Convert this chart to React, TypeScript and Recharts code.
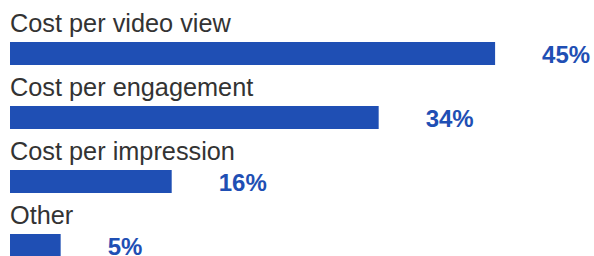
import { Bar, BarChart, LabelList, XAxis, YAxis } from 'recharts';

const categories = ['Cost per video view', 'Cost per engagement', 'Cost per impression', 'Other'];
const values = [45, 34.2, 15, 4.7];
const shareLabels = ['45%', '34%', '16%', '5%'];

const data = categories.map((name, i) => ({ name, value: values[i], share: shareLabels[i] }));

const BLUE = '#1f4fb4';

const NameLabel = (props: any) => {
  const { x, y, index } = props;
  return (
    <text x={x} y={y - 10} fill="#333" fontSize={25.3} textAnchor="start">
      {categories[index]}
    </text>
  );
};

const ShareLabel = (props: any) => {
  const { x, y, width, height, index } = props;
  return (
    <text
      x={x + width + 47}
      y={y + height / 2 + 1}
      fill={BLUE}
      fontSize={24}
      fontWeight="bold"
      textAnchor="start"
      dominantBaseline="central"
    >
      {shareLabels[index]}
    </text>
  );
};

export default function App() {
  return (
    <div style={{ width: 594, height: 256, overflow: 'hidden', fontFamily: '"Liberation Sans", Arial, sans-serif' }}>
      <style>{'body { margin: 0; }'}</style>
      <BarChart
        width={594}
        height={277}
        data={data}
        layout="vertical"
        margin={{ top: 21, right: 45, left: 10, bottom: 0 }}
      >
        <XAxis type="number" domain={[0, 50]} hide />
        <YAxis type="category" dataKey="name" hide />
        <Bar dataKey="value" fill={BLUE} barSize={23} isAnimationActive={false}>
          <LabelList dataKey="name" content={NameLabel} />
          <LabelList dataKey="share" content={ShareLabel} />
        </Bar>
      </BarChart>
    </div>
  );
}
